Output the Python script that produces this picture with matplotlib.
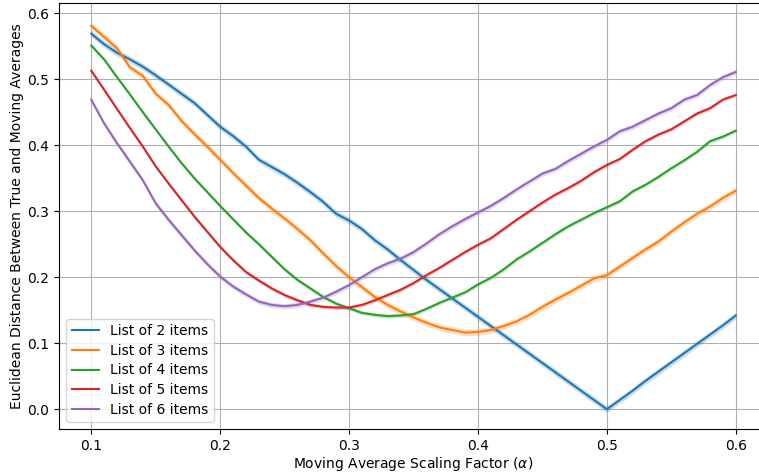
import numpy as np
import matplotlib
matplotlib.use("Agg")
import matplotlib.pyplot as plt

# Moving average scaling factor (alpha), 0.10 .. 0.60 in steps of 0.01
alpha = np.round(np.arange(0.10, 0.6001, 0.01), 2)

dist_2 = [0.569, 0.553, 0.540, 0.530, 0.519, 0.506, 0.492, 0.478, 0.464, 0.446,
          0.428, 0.414, 0.398, 0.378, 0.367, 0.356, 0.343, 0.329, 0.314, 0.296,
          0.286, 0.273, 0.256, 0.242, 0.226, 0.211, 0.196, 0.182, 0.168, 0.154,
          0.140, 0.126, 0.112, 0.098, 0.084, 0.070, 0.056, 0.042, 0.028, 0.014,
          0.000, 0.014, 0.028, 0.043, 0.057, 0.071, 0.085, 0.099, 0.113, 0.127,
          0.142]

dist_3 = [0.581, 0.564, 0.547, 0.518, 0.505, 0.478, 0.461, 0.437, 0.417, 0.398,
          0.378, 0.358, 0.339, 0.320, 0.304, 0.289, 0.273, 0.256, 0.236, 0.217,
          0.200, 0.185, 0.170, 0.158, 0.148, 0.139, 0.131, 0.124, 0.120, 0.116,
          0.117, 0.120, 0.126, 0.133, 0.143, 0.155, 0.166, 0.176, 0.187, 0.198,
          0.203, 0.216, 0.229, 0.242, 0.254, 0.269, 0.283, 0.296, 0.307, 0.320,
          0.331]

dist_4 = [0.551, 0.530, 0.503, 0.477, 0.450, 0.424, 0.398, 0.373, 0.350, 0.329,
          0.308, 0.288, 0.268, 0.250, 0.231, 0.212, 0.196, 0.183, 0.170, 0.160,
          0.153, 0.146, 0.143, 0.141, 0.142, 0.144, 0.152, 0.161, 0.169, 0.177,
          0.189, 0.199, 0.212, 0.227, 0.239, 0.252, 0.265, 0.277, 0.287, 0.297,
          0.306, 0.315, 0.330, 0.340, 0.352, 0.365, 0.377, 0.390, 0.406, 0.413,
          0.422]

dist_5 = [0.513, 0.484, 0.455, 0.426, 0.398, 0.368, 0.342, 0.317, 0.292, 0.269,
          0.246, 0.226, 0.208, 0.195, 0.183, 0.173, 0.165, 0.158, 0.155, 0.154,
          0.154, 0.158, 0.165, 0.173, 0.181, 0.191, 0.203, 0.214, 0.226, 0.238,
          0.249, 0.259, 0.273, 0.287, 0.300, 0.313, 0.325, 0.335, 0.346, 0.359,
          0.370, 0.379, 0.393, 0.406, 0.416, 0.424, 0.436, 0.448, 0.456, 0.469,
          0.476]

dist_6 = [0.469, 0.433, 0.403, 0.375, 0.347, 0.312, 0.287, 0.264, 0.241, 0.220,
          0.201, 0.186, 0.174, 0.163, 0.158, 0.156, 0.158, 0.163, 0.169, 0.178,
          0.188, 0.200, 0.212, 0.221, 0.228, 0.238, 0.251, 0.265, 0.277, 0.288,
          0.298, 0.308, 0.320, 0.333, 0.345, 0.357, 0.364, 0.376, 0.387, 0.398,
          0.408, 0.421, 0.428, 0.438, 0.448, 0.456, 0.469, 0.476, 0.491, 0.503,
          0.511]

labels = ["List of 2 items", "List of 3 items", "List of 4 items",
          "List of 5 items", "List of 6 items"]
series = [dist_2, dist_3, dist_4, dist_5, dist_6]
# half-width of the confidence band drawn around each mean curve
band = [0.005, 0.005, 0.003, 0.003, 0.004]

colors = ["#1f77b4", "#ff7f0e", "#2ca02c", "#d62728", "#9467bd"]

fig = plt.figure(figsize=(7.59, 4.74), dpi=100)
ax = fig.add_axes([59 / 759, 45 / 474, 709 / 759, 425.7 / 474])

for vals, lab, col, hw in zip(series, labels, colors, band):
    y = np.asarray(vals)
    ax.fill_between(alpha, y - hw, y + hw, color=col, alpha=0.25, linewidth=0)
    ax.plot(alpha, y, color=col, linewidth=1.5, label=lab)

ax.set_xlim(0.075, 0.625)
ax.set_ylim(-0.030, 0.615)
ax.set_xticks([0.1, 0.2, 0.3, 0.4, 0.5, 0.6])
ax.set_yticks([0.0, 0.1, 0.2, 0.3, 0.4, 0.5, 0.6])
ax.grid(True, color="#b0b0b0", linewidth=0.8)
ax.set_axisbelow(True)
ax.set_xlabel(r"Moving Average Scaling Factor ($\alpha$)", labelpad=1.5)
ax.set_ylabel("Euclidean Distance Between True and Moving Averages", labelpad=2)
ax.legend(loc="lower left", labelspacing=0.4)

fig.savefig("out.png", dpi=100)
